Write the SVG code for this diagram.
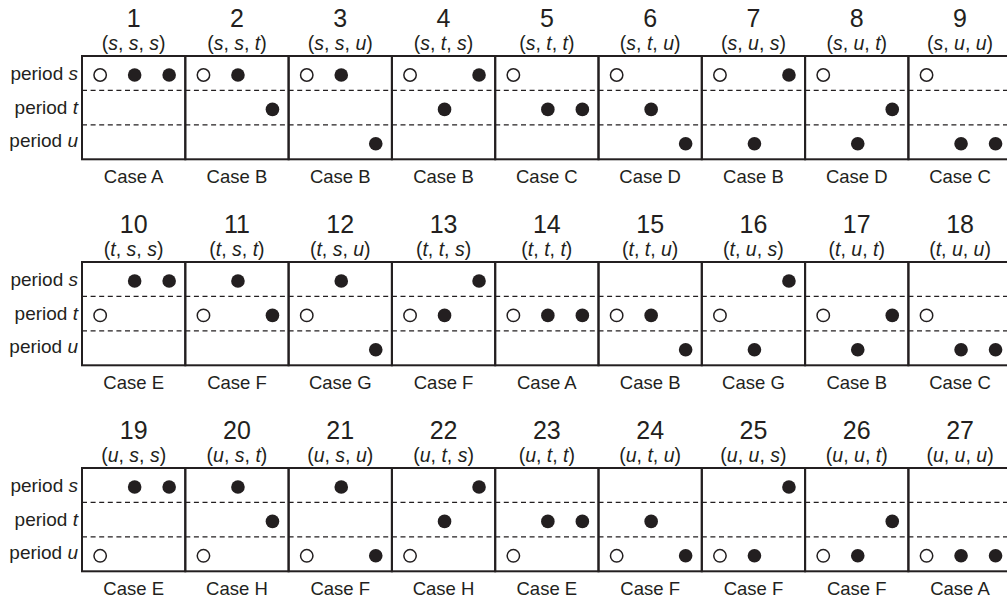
<svg xmlns="http://www.w3.org/2000/svg" xmlns:xlink="http://www.w3.org/1999/xlink" width="1007" height="601" viewBox="0 0 1007 601">
<style>
.box{fill:none;stroke:#231f20;stroke-width:2}
.dash{fill:none;stroke:#231f20;stroke-width:1.3;stroke-dasharray:5 3.6}
.f{fill:#231f20}
.o{fill:#fff;stroke:#231f20;stroke-width:1.5}
text{font-family:"Liberation Sans",Arial,sans-serif;fill:#231f20}
.num{font-size:25px;text-anchor:middle}
.tup{font-size:19.5px;text-anchor:middle}
.case{font-size:18.5px;text-anchor:middle}
.per{font-size:19px;text-anchor:end}
.i{font-style:italic}
</style>
<defs>
<circle id="F" r="6.8" class="f"/>
<circle id="O" r="6.2" class="o"/>
<g id="frame">
<rect class="box" x="0" y="0" width="103.3" height="103.3"/>
<line class="dash" x1="0" y1="34.4" x2="103.3" y2="34.4"/>
<line class="dash" x1="0" y1="68.8" x2="103.3" y2="68.8"/>
</g>
</defs>
<rect width="1007" height="601" fill="#fff"/>

<g id="period-labels-row1" transform="translate(0,56)">
<text class="per" x="78" y="24">period <tspan class="i">s</tspan></text>
<text class="per" x="78" y="57.5">period <tspan class="i">t</tspan></text>
<text class="per" x="78" y="91">period <tspan class="i">u</tspan></text>
</g>
<g id="period-labels-row2" transform="translate(0,262)">
<text class="per" x="78" y="24">period <tspan class="i">s</tspan></text>
<text class="per" x="78" y="57.5">period <tspan class="i">t</tspan></text>
<text class="per" x="78" y="91">period <tspan class="i">u</tspan></text>
</g>
<g id="period-labels-row3" transform="translate(0,468)">
<text class="per" x="78" y="24">period <tspan class="i">s</tspan></text>
<text class="per" x="78" y="57.5">period <tspan class="i">t</tspan></text>
<text class="per" x="78" y="91">period <tspan class="i">u</tspan></text>
</g>

<g id="cell-1" transform="translate(82,56)"><use href="#frame"/><text class="num" x="51.65" y="-29">1</text><text class="tup" x="51.65" y="-6.5">(<tspan class="i">s</tspan>, <tspan class="i">s</tspan>, <tspan class="i">s</tspan>)</text><use href="#O" x="18.15" y="19"/><use href="#F" x="52.65" y="19"/><use href="#F" x="87.15" y="19"/><text class="case" x="51.65" y="127">Case A</text></g>
<g id="cell-2" transform="translate(185.3,56)"><use href="#frame"/><text class="num" x="51.65" y="-29">2</text><text class="tup" x="51.65" y="-6.5">(<tspan class="i">s</tspan>, <tspan class="i">s</tspan>, <tspan class="i">t</tspan>)</text><use href="#O" x="18.15" y="19"/><use href="#F" x="52.65" y="19"/><use href="#F" x="87.15" y="53.4"/><text class="case" x="51.65" y="127">Case B</text></g>
<g id="cell-3" transform="translate(288.6,56)"><use href="#frame"/><text class="num" x="51.65" y="-29">3</text><text class="tup" x="51.65" y="-6.5">(<tspan class="i">s</tspan>, <tspan class="i">s</tspan>, <tspan class="i">u</tspan>)</text><use href="#O" x="18.15" y="19"/><use href="#F" x="52.65" y="19"/><use href="#F" x="87.15" y="87.8"/><text class="case" x="51.65" y="127">Case B</text></g>
<g id="cell-4" transform="translate(391.9,56)"><use href="#frame"/><text class="num" x="51.65" y="-29">4</text><text class="tup" x="51.65" y="-6.5">(<tspan class="i">s</tspan>, <tspan class="i">t</tspan>, <tspan class="i">s</tspan>)</text><use href="#O" x="18.15" y="19"/><use href="#F" x="52.65" y="53.4"/><use href="#F" x="87.15" y="19"/><text class="case" x="51.65" y="127">Case B</text></g>
<g id="cell-5" transform="translate(495.2,56)"><use href="#frame"/><text class="num" x="51.65" y="-29">5</text><text class="tup" x="51.65" y="-6.5">(<tspan class="i">s</tspan>, <tspan class="i">t</tspan>, <tspan class="i">t</tspan>)</text><use href="#O" x="18.15" y="19"/><use href="#F" x="52.65" y="53.4"/><use href="#F" x="87.15" y="53.4"/><text class="case" x="51.65" y="127">Case C</text></g>
<g id="cell-6" transform="translate(598.5,56)"><use href="#frame"/><text class="num" x="51.65" y="-29">6</text><text class="tup" x="51.65" y="-6.5">(<tspan class="i">s</tspan>, <tspan class="i">t</tspan>, <tspan class="i">u</tspan>)</text><use href="#O" x="18.15" y="19"/><use href="#F" x="52.65" y="53.4"/><use href="#F" x="87.15" y="87.8"/><text class="case" x="51.65" y="127">Case D</text></g>
<g id="cell-7" transform="translate(701.8,56)"><use href="#frame"/><text class="num" x="51.65" y="-29">7</text><text class="tup" x="51.65" y="-6.5">(<tspan class="i">s</tspan>, <tspan class="i">u</tspan>, <tspan class="i">s</tspan>)</text><use href="#O" x="18.15" y="19"/><use href="#F" x="52.65" y="87.8"/><use href="#F" x="87.15" y="19"/><text class="case" x="51.65" y="127">Case B</text></g>
<g id="cell-8" transform="translate(805.1,56)"><use href="#frame"/><text class="num" x="51.65" y="-29">8</text><text class="tup" x="51.65" y="-6.5">(<tspan class="i">s</tspan>, <tspan class="i">u</tspan>, <tspan class="i">t</tspan>)</text><use href="#O" x="18.15" y="19"/><use href="#F" x="52.65" y="87.8"/><use href="#F" x="87.15" y="53.4"/><text class="case" x="51.65" y="127">Case D</text></g>
<g id="cell-9" transform="translate(908.4,56)"><use href="#frame"/><text class="num" x="51.65" y="-29">9</text><text class="tup" x="51.65" y="-6.5">(<tspan class="i">s</tspan>, <tspan class="i">u</tspan>, <tspan class="i">u</tspan>)</text><use href="#O" x="18.15" y="19"/><use href="#F" x="52.65" y="87.8"/><use href="#F" x="87.15" y="87.8"/><text class="case" x="51.65" y="127">Case C</text></g>

<g id="cell-10" transform="translate(82,262)"><use href="#frame"/><text class="num" x="51.65" y="-29">10</text><text class="tup" x="51.65" y="-6.5">(<tspan class="i">t</tspan>, <tspan class="i">s</tspan>, <tspan class="i">s</tspan>)</text><use href="#O" x="18.15" y="53.4"/><use href="#F" x="52.65" y="19"/><use href="#F" x="87.15" y="19"/><text class="case" x="51.65" y="127">Case E</text></g>
<g id="cell-11" transform="translate(185.3,262)"><use href="#frame"/><text class="num" x="51.65" y="-29">11</text><text class="tup" x="51.65" y="-6.5">(<tspan class="i">t</tspan>, <tspan class="i">s</tspan>, <tspan class="i">t</tspan>)</text><use href="#O" x="18.15" y="53.4"/><use href="#F" x="52.65" y="19"/><use href="#F" x="87.15" y="53.4"/><text class="case" x="51.65" y="127">Case F</text></g>
<g id="cell-12" transform="translate(288.6,262)"><use href="#frame"/><text class="num" x="51.65" y="-29">12</text><text class="tup" x="51.65" y="-6.5">(<tspan class="i">t</tspan>, <tspan class="i">s</tspan>, <tspan class="i">u</tspan>)</text><use href="#O" x="18.15" y="53.4"/><use href="#F" x="52.65" y="19"/><use href="#F" x="87.15" y="87.8"/><text class="case" x="51.65" y="127">Case G</text></g>
<g id="cell-13" transform="translate(391.9,262)"><use href="#frame"/><text class="num" x="51.65" y="-29">13</text><text class="tup" x="51.65" y="-6.5">(<tspan class="i">t</tspan>, <tspan class="i">t</tspan>, <tspan class="i">s</tspan>)</text><use href="#O" x="18.15" y="53.4"/><use href="#F" x="52.65" y="53.4"/><use href="#F" x="87.15" y="19"/><text class="case" x="51.65" y="127">Case F</text></g>
<g id="cell-14" transform="translate(495.2,262)"><use href="#frame"/><text class="num" x="51.65" y="-29">14</text><text class="tup" x="51.65" y="-6.5">(<tspan class="i">t</tspan>, <tspan class="i">t</tspan>, <tspan class="i">t</tspan>)</text><use href="#O" x="18.15" y="53.4"/><use href="#F" x="52.65" y="53.4"/><use href="#F" x="87.15" y="53.4"/><text class="case" x="51.65" y="127">Case A</text></g>
<g id="cell-15" transform="translate(598.5,262)"><use href="#frame"/><text class="num" x="51.65" y="-29">15</text><text class="tup" x="51.65" y="-6.5">(<tspan class="i">t</tspan>, <tspan class="i">t</tspan>, <tspan class="i">u</tspan>)</text><use href="#O" x="18.15" y="53.4"/><use href="#F" x="52.65" y="53.4"/><use href="#F" x="87.15" y="87.8"/><text class="case" x="51.65" y="127">Case B</text></g>
<g id="cell-16" transform="translate(701.8,262)"><use href="#frame"/><text class="num" x="51.65" y="-29">16</text><text class="tup" x="51.65" y="-6.5">(<tspan class="i">t</tspan>, <tspan class="i">u</tspan>, <tspan class="i">s</tspan>)</text><use href="#O" x="18.15" y="53.4"/><use href="#F" x="52.65" y="87.8"/><use href="#F" x="87.15" y="19"/><text class="case" x="51.65" y="127">Case G</text></g>
<g id="cell-17" transform="translate(805.1,262)"><use href="#frame"/><text class="num" x="51.65" y="-29">17</text><text class="tup" x="51.65" y="-6.5">(<tspan class="i">t</tspan>, <tspan class="i">u</tspan>, <tspan class="i">t</tspan>)</text><use href="#O" x="18.15" y="53.4"/><use href="#F" x="52.65" y="87.8"/><use href="#F" x="87.15" y="53.4"/><text class="case" x="51.65" y="127">Case B</text></g>
<g id="cell-18" transform="translate(908.4,262)"><use href="#frame"/><text class="num" x="51.65" y="-29">18</text><text class="tup" x="51.65" y="-6.5">(<tspan class="i">t</tspan>, <tspan class="i">u</tspan>, <tspan class="i">u</tspan>)</text><use href="#O" x="18.15" y="53.4"/><use href="#F" x="52.65" y="87.8"/><use href="#F" x="87.15" y="87.8"/><text class="case" x="51.65" y="127">Case C</text></g>

<g id="cell-19" transform="translate(82,468)"><use href="#frame"/><text class="num" x="51.65" y="-29">19</text><text class="tup" x="51.65" y="-6.5">(<tspan class="i">u</tspan>, <tspan class="i">s</tspan>, <tspan class="i">s</tspan>)</text><use href="#O" x="18.15" y="87.8"/><use href="#F" x="52.65" y="19"/><use href="#F" x="87.15" y="19"/><text class="case" x="51.65" y="127">Case E</text></g>
<g id="cell-20" transform="translate(185.3,468)"><use href="#frame"/><text class="num" x="51.65" y="-29">20</text><text class="tup" x="51.65" y="-6.5">(<tspan class="i">u</tspan>, <tspan class="i">s</tspan>, <tspan class="i">t</tspan>)</text><use href="#O" x="18.15" y="87.8"/><use href="#F" x="52.65" y="19"/><use href="#F" x="87.15" y="53.4"/><text class="case" x="51.65" y="127">Case H</text></g>
<g id="cell-21" transform="translate(288.6,468)"><use href="#frame"/><text class="num" x="51.65" y="-29">21</text><text class="tup" x="51.65" y="-6.5">(<tspan class="i">u</tspan>, <tspan class="i">s</tspan>, <tspan class="i">u</tspan>)</text><use href="#O" x="18.15" y="87.8"/><use href="#F" x="52.65" y="19"/><use href="#F" x="87.15" y="87.8"/><text class="case" x="51.65" y="127">Case F</text></g>
<g id="cell-22" transform="translate(391.9,468)"><use href="#frame"/><text class="num" x="51.65" y="-29">22</text><text class="tup" x="51.65" y="-6.5">(<tspan class="i">u</tspan>, <tspan class="i">t</tspan>, <tspan class="i">s</tspan>)</text><use href="#O" x="18.15" y="87.8"/><use href="#F" x="52.65" y="53.4"/><use href="#F" x="87.15" y="19"/><text class="case" x="51.65" y="127">Case H</text></g>
<g id="cell-23" transform="translate(495.2,468)"><use href="#frame"/><text class="num" x="51.65" y="-29">23</text><text class="tup" x="51.65" y="-6.5">(<tspan class="i">u</tspan>, <tspan class="i">t</tspan>, <tspan class="i">t</tspan>)</text><use href="#O" x="18.15" y="87.8"/><use href="#F" x="52.65" y="53.4"/><use href="#F" x="87.15" y="53.4"/><text class="case" x="51.65" y="127">Case E</text></g>
<g id="cell-24" transform="translate(598.5,468)"><use href="#frame"/><text class="num" x="51.65" y="-29">24</text><text class="tup" x="51.65" y="-6.5">(<tspan class="i">u</tspan>, <tspan class="i">t</tspan>, <tspan class="i">u</tspan>)</text><use href="#O" x="18.15" y="87.8"/><use href="#F" x="52.65" y="53.4"/><use href="#F" x="87.15" y="87.8"/><text class="case" x="51.65" y="127">Case F</text></g>
<g id="cell-25" transform="translate(701.8,468)"><use href="#frame"/><text class="num" x="51.65" y="-29">25</text><text class="tup" x="51.65" y="-6.5">(<tspan class="i">u</tspan>, <tspan class="i">u</tspan>, <tspan class="i">s</tspan>)</text><use href="#O" x="18.15" y="87.8"/><use href="#F" x="52.65" y="87.8"/><use href="#F" x="87.15" y="19"/><text class="case" x="51.65" y="127">Case F</text></g>
<g id="cell-26" transform="translate(805.1,468)"><use href="#frame"/><text class="num" x="51.65" y="-29">26</text><text class="tup" x="51.65" y="-6.5">(<tspan class="i">u</tspan>, <tspan class="i">u</tspan>, <tspan class="i">t</tspan>)</text><use href="#O" x="18.15" y="87.8"/><use href="#F" x="52.65" y="87.8"/><use href="#F" x="87.15" y="53.4"/><text class="case" x="51.65" y="127">Case F</text></g>
<g id="cell-27" transform="translate(908.4,468)"><use href="#frame"/><text class="num" x="51.65" y="-29">27</text><text class="tup" x="51.65" y="-6.5">(<tspan class="i">u</tspan>, <tspan class="i">u</tspan>, <tspan class="i">u</tspan>)</text><use href="#O" x="18.15" y="87.8"/><use href="#F" x="52.65" y="87.8"/><use href="#F" x="87.15" y="87.8"/><text class="case" x="51.65" y="127">Case A</text></g>

<g id="connectors"></g>
</svg>
